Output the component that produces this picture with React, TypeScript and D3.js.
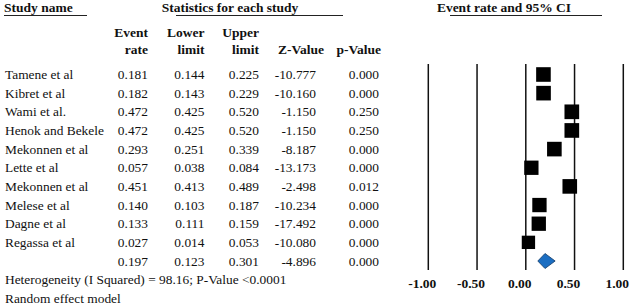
import React from "react";
import * as d3 from "d3";

const studies = ["Tamene et al", "Kibret et al", "Wami et al.", "Henok and Bekele", "Mekonnen et al", "Lette et al", "Mekonnen et al", "Melese et al", "Dagne et al", "Regassa et al"];
const eventRate = [0.181, 0.182, 0.472, 0.472, 0.293, 0.057, 0.451, 0.140, 0.133, 0.027];
const lowerLimit = [0.144, 0.143, 0.425, 0.425, 0.251, 0.038, 0.413, 0.103, 0.111, 0.014];
const upperLimit = [0.225, 0.229, 0.520, 0.520, 0.339, 0.084, 0.489, 0.187, 0.159, 0.053];
const zValue = [-10.777, -10.160, -1.150, -1.150, -8.187, -13.173, -2.498, -10.234, -17.492, -10.080];
const pValue = [0.000, 0.000, 0.250, 0.250, 0.000, 0.000, 0.012, 0.000, 0.000, 0.000];
const relWeight = [10.3, 10.3, 10.4, 10.4, 10.3, 9.9, 10.3, 9.9, 9.9, 8.6];
const summaryRate = 0.197;
const summaryLower = 0.123;
const summaryUpper = 0.301;
const summaryZ = -4.896;
const summaryP = 0.000;
const tickValues = [-1, -0.5, 0, 0.5, 1];
const heterogeneityText = "Heterogeneity (I Squared) = 98.16; P-Value <0.0001";
const modelText = "Random effect model";

const FONT = "'Liberation Serif', 'Times New Roman', serif";

export default function App() {
  const W = 630, H = 307;
  const x = d3.scaleLinear().domain([-1, 1]).range([428.3, 623.3]);
  const y = d3.scaleLinear().domain([0, 10]).range([74.5, 261]);
  const size = d3.scaleSqrt().domain([0, 10.3]).range([0, 14.6]);
  const f3 = d3.format(".3f");
  const f2 = d3.format(".2f");
  const fz = (v: number) => f3(v).replace("−", "-");
  const cols = [
    { right: 148, vals: eventRate, sum: summaryRate, h1: "Event", h2: "rate" },
    { right: 204.5, vals: lowerLimit, sum: summaryLower, h1: "Lower", h2: "limit" },
    { right: 259, vals: upperLimit, sum: summaryUpper, h1: "Upper", h2: "limit" },
  ];
  const txt = { fontFamily: FONT, fontSize: 13.4, fill: "#111" } as const;
  const bold = { ...txt, fontSize: 13.5, fontWeight: 700 } as const;
  const diamond = d3.line()([
    [x(summaryLower), y(10)],
    [x(summaryRate), y(10) - 7.5],
    [x(summaryUpper), y(10)],
    [x(summaryRate), y(10) + 7.5],
  ]) + "Z";

  return (
    <svg width={W} height={H} style={{ position: "absolute", left: 0, top: 0, background: "#fff" }}>
      {/* headers */}
      <text x={4} y={12} {...bold}>Study name</text>
      <line x1={4} x2={87} y1={15.5} y2={15.5} stroke="#222" strokeWidth={1} />
      <text x={230} y={12} textAnchor="middle" {...bold}>Statistics for each study</text>
      <line x1={176} x2={343} y1={15.5} y2={15.5} stroke="#222" strokeWidth={1} />
      <text x={504} y={12} textAnchor="middle" {...bold}>Event rate and 95% CI</text>
      <line x1={450} x2={602} y1={15.5} y2={15.5} stroke="#222" strokeWidth={1} />

      {cols.map((c, i) => (
        <g key={"h" + i}>
          <text x={c.right} y={36.5} textAnchor="end" {...bold}>{c.h1}</text>
          <text x={c.right} y={54} textAnchor="end" {...bold}>{c.h2}</text>
        </g>
      ))}
      <text x={324} y={54} textAnchor="end" {...bold}>Z-Value</text>
      <text x={381} y={54} textAnchor="end" {...bold}>p-Value</text>

      {/* rows */}
      {studies.map((s, i) => (
        <g key={"r" + i}>
          <text x={5} y={y(i)} dy="0.35em" {...txt}>{s}</text>
          {cols.map((c, j) => (
            <text key={j} x={c.right} y={y(i)} dy="0.35em" textAnchor="end" {...txt}>{f3(c.vals[i])}</text>
          ))}
          <text x={316} y={y(i)} dy="0.35em" textAnchor="end" {...txt}>{fz(zValue[i])}</text>
          <text x={379} y={y(i)} dy="0.35em" textAnchor="end" {...txt}>{f3(pValue[i])}</text>
        </g>
      ))}
      {cols.map((c, j) => (
        <text key={"s" + j} x={c.right} y={y(10)} dy="0.35em" textAnchor="end" {...txt}>{f3(c.sum)}</text>
      ))}
      <text x={316} y={y(10)} dy="0.35em" textAnchor="end" {...txt}>{fz(summaryZ)}</text>
      <text x={379} y={y(10)} dy="0.35em" textAnchor="end" {...txt}>{f3(summaryP)}</text>

      <text x={5} y={279.5} dy="0.35em" {...txt}>{heterogeneityText}</text>
      <text x={5} y={298} dy="0.35em" {...txt}>{modelText}</text>

      {/* forest plot */}
      {tickValues.map((t) => (
        <g key={"t" + t}>
          <line x1={x(t)} x2={x(t)} y1={64} y2={270} stroke="#111" strokeWidth={1.5} />
          <text x={x(t) - 6} y={283.5} dy="0.35em" textAnchor="middle" {...bold}>{f2(t).replace("−", "-")}</text>
        </g>
      ))}
      {studies.map((s, i) => {
        const sz = size(relWeight[i]);
        return (
          <g key={"m" + i}>
            <line x1={x(lowerLimit[i])} x2={x(upperLimit[i])} y1={y(i)} y2={y(i)} stroke="#000" strokeWidth={1} />
            <rect x={x(eventRate[i]) - sz / 2} y={y(i) - sz / 2} width={sz} height={sz} fill="#000" />
          </g>
        );
      })}
      <path d={diamond} fill="#1b6ec2" stroke="#123a66" strokeWidth={0.8} />
    </svg>
  );
}
